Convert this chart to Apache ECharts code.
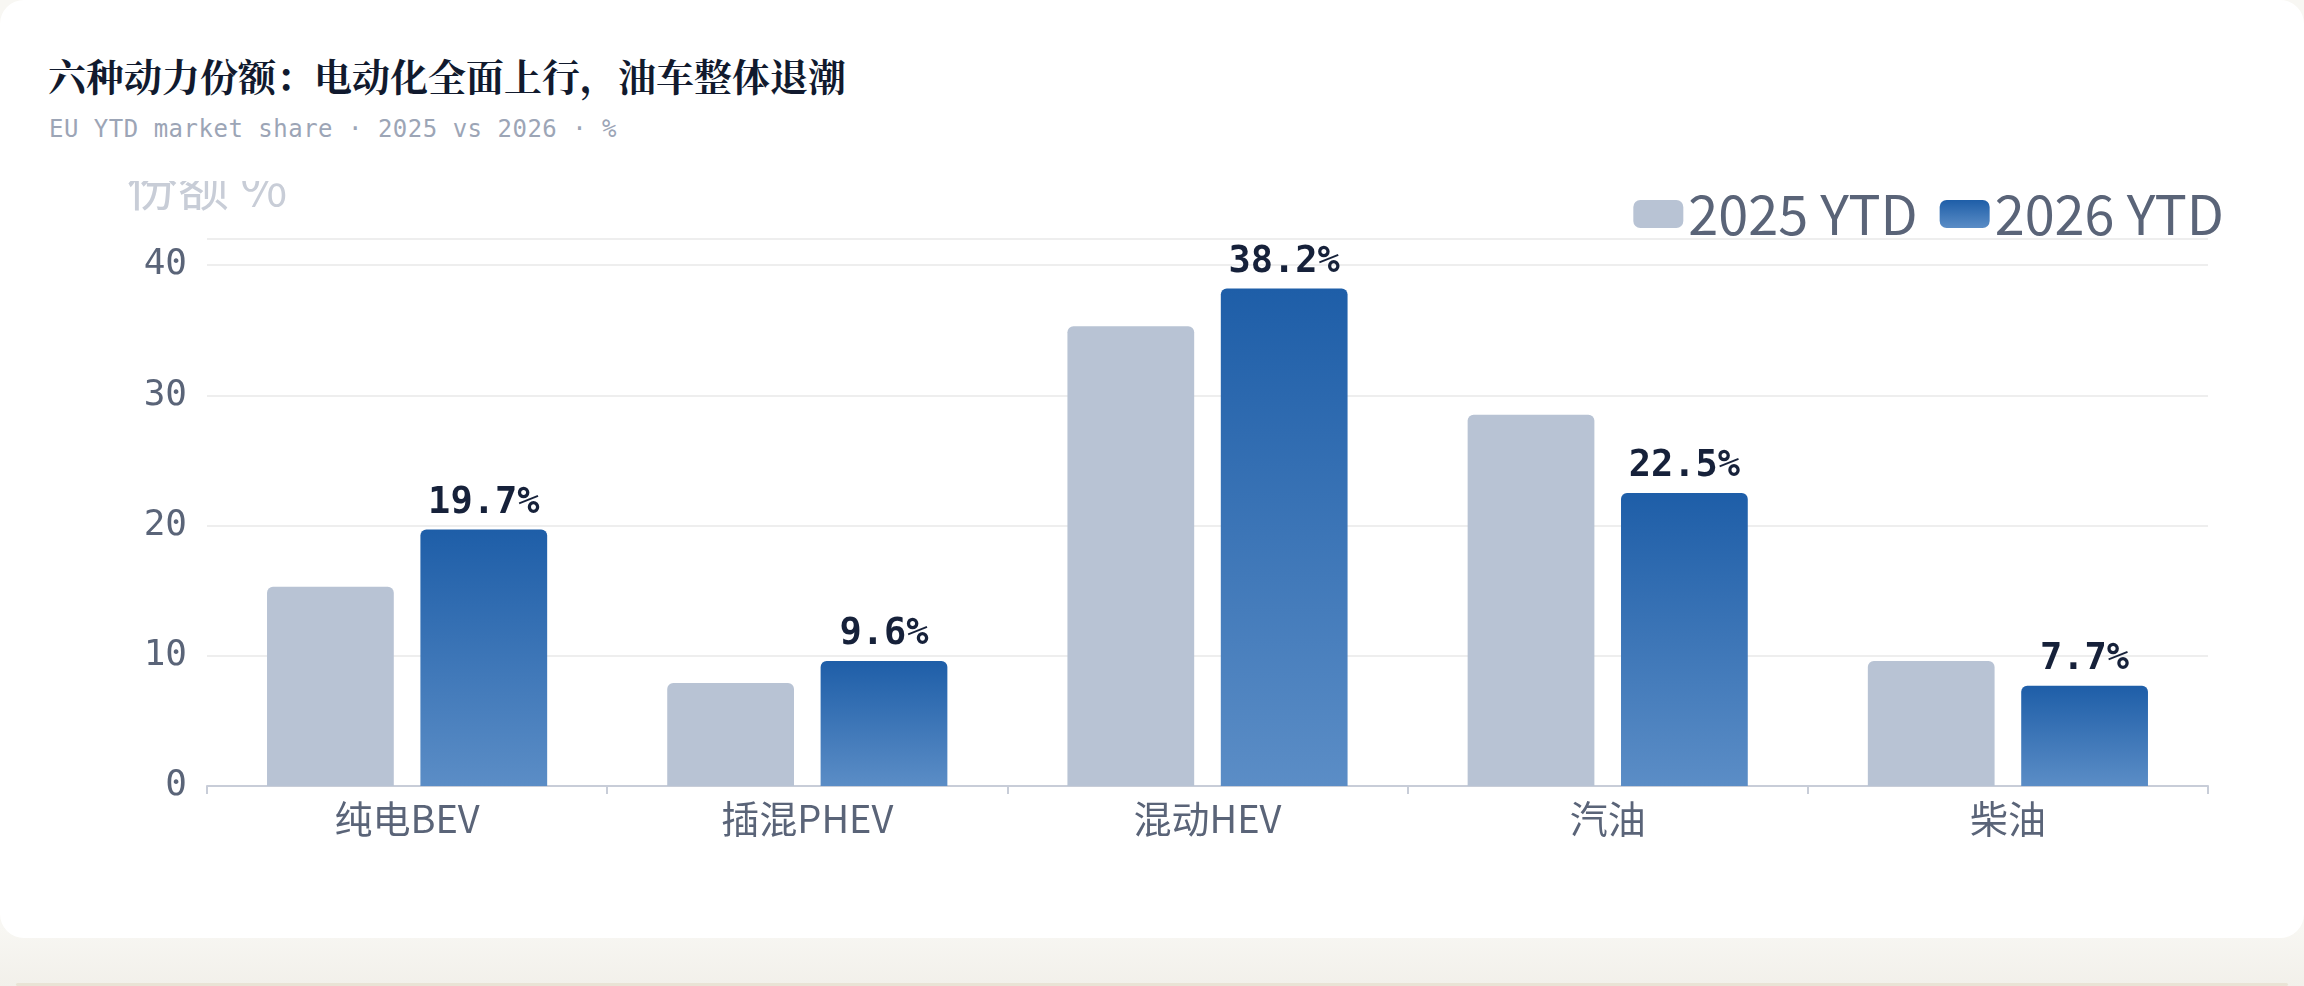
<!DOCTYPE html>
<html>
<head>
<meta charset="utf-8">
<script src="https://cdn.jsdelivr.net/npm/echarts@6/dist/echarts.min.js"></script>
<style>
  html, body { margin: 0; padding: 0; }
  body {
    width: 2304px; height: 986px; overflow: hidden; position: relative;
    background: linear-gradient(#f8f7f3 0%, #f8f7f3 94%, #f2f0ea 100%);
  }
  .card {
    position: absolute; left: 0; top: 0; width: 2304px; height: 938px;
    background: #ffffff; border-radius: 24px;
  }
  .bottomline {
    position: absolute; left: 16px; right: 16px; top: 983px; height: 3px;
    background: #e9e3d5; border-radius: 2px;
  }
  h1 {
    position: absolute; left: 48px; top: 52px; margin: 0;
    font-family: "Noto Serif CJK SC", "Noto Serif SC", "Source Han Serif SC", serif;
    font-weight: 700; font-size: 38px; line-height: 46px; color: #111a2e;
  }
  .sub {
    position: absolute; left: 49px; top: 114px; margin: 0;
    font-family: "DejaVu Sans Mono", monospace; font-size: 24px; line-height: 30px;
    letter-spacing: 0.5px; color: #9ca5b6;
  }
  #chart { position: absolute; left: 0; top: 181px; width: 2304px; height: 757px; }
</style>
</head>
<body>
<div class="card"></div>
<div class="bottomline"></div>
<h1>六种动力份额：电动化全面上行，油车整体退潮</h1>
<div class="sub">EU YTD market share · 2025 vs 2026 · %</div>
<div id="chart"></div>
<script>
const categories = ['纯电BEV', '插混PHEV', '混动HEV', '汽油', '柴油'];
const seriesNames = ['2025 YTD', '2026 YTD'];
const share2025 = [15.3, 7.9, 35.3, 28.5, 9.6];
const share2026 = [19.7, 9.6, 38.2, 22.5, 7.7];
const yAxisName = '份额 %';
const yMin = 0, yMax = 42, yInterval = 10;

const chart = echarts.init(document.getElementById('chart'), null, { renderer: 'canvas' });
const axisColor = '#5a6478';
chart.setOption({
  animation: false,
  textStyle: { fontFamily: 'Noto Sans CJK SC' },
  legend: {
    data: seriesNames,
    right: 80, top: 6, padding: 0,
    icon: 'roundRect', itemWidth: 50, itemHeight: 28, itemGap: 22,
    textStyle: { fontSize: 54, color: axisColor, fontFamily: 'Noto Sans CJK SC' }
  },
  grid: { left: 207, right: 96, top: 58, bottom: 152, outerBoundsMode: 'none', containLabel: false },
  xAxis: {
    type: 'category',
    data: categories,
    axisLine: { lineStyle: { color: '#c8cdd8', width: 2 } },
    axisTick: { show: true, length: 8, lineStyle: { color: '#c8cdd8', width: 2 } },
    axisLabel: { fontSize: 38, color: axisColor, margin: 14, fontFamily: 'Noto Sans CJK SC' }
  },
  yAxis: {
    type: 'value',
    min: yMin, max: yMax, interval: yInterval,
    name: yAxisName, nameLocation: 'end', nameGap: 27,
    nameTextStyle: { fontSize: 51, color: '#c8cdd7', fontFamily: 'Noto Sans CJK SC' },
    axisLine: { show: false },
    axisTick: { show: false },
    axisLabel: { fontSize: 36, color: axisColor, margin: 20, fontFamily: 'DejaVu Sans Mono', showMaxLabel: false },
    splitLine: { lineStyle: { color: '#eeeeee', width: 2 } }
  },
  series: [
    {
      name: seriesNames[0], type: 'bar', data: share2025,
      barCategoryGap: '30%', barGap: '21%',
      itemStyle: { color: '#b8c3d4', borderRadius: [6, 6, 0, 0] }
    },
    {
      name: seriesNames[1], type: 'bar', data: share2026,
      barCategoryGap: '30%', barGap: '21%',
      itemStyle: {
        borderRadius: [6, 6, 0, 0],
        color: new echarts.graphic.LinearGradient(0, 0, 0, 1, [
          { offset: 0, color: '#1e5ea8' },
          { offset: 1, color: '#5b8dc6' }
        ])
      },
      label: {
        show: true, position: 'top', distance: 8,
        fontFamily: 'DejaVu Sans Mono', fontWeight: 'bold', fontSize: 37, color: '#16213a',
        formatter: p => p.value.toFixed(1) + '%'
      }
    }
  ]
});
</script>
</body>
</html>
